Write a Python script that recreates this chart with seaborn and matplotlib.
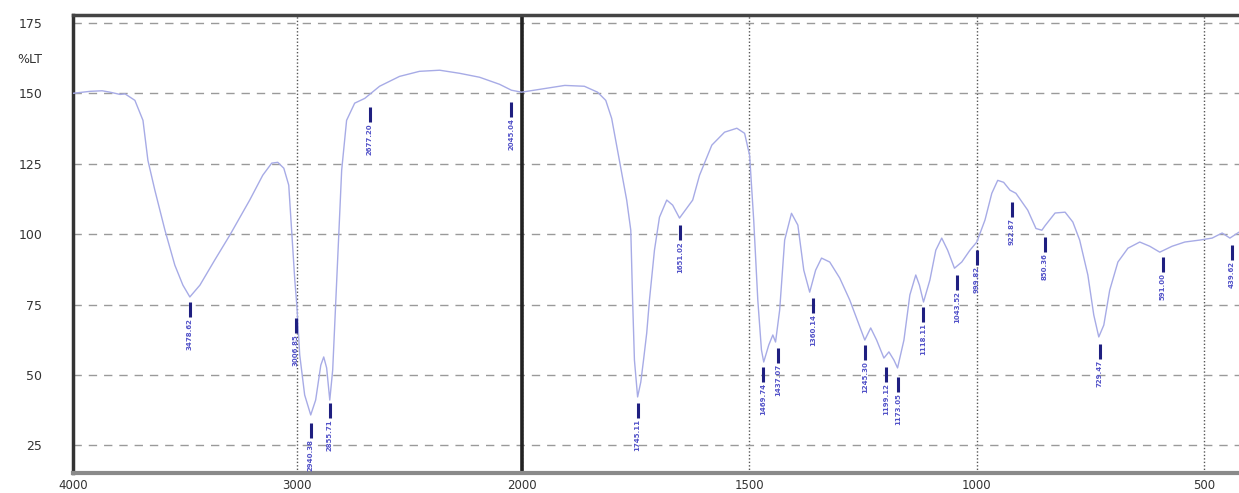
import numpy as np
import pandas as pd
import matplotlib
matplotlib.use("Agg")
import matplotlib.pyplot as plt
import seaborn as sns
from matplotlib.ticker import FixedLocator, NullFormatter

# ---------------- data ----------------
wavenumber = [4000, 3924, 3870, 3835, 3790, 3768, 3724, 3688, 3666, 3635, 3590, 3546, 3510,
              3479, 3434, 3368, 3301, 3212, 3154, 3114, 3087, 3060, 3038, 3025, 3011, 3002,
              2989, 2967, 2940, 2918, 2895, 2882, 2869, 2855, 2842, 2824, 2802, 2780, 2744,
              2699, 2633, 2544, 2455, 2365, 2276, 2187, 2098, 2045, 2000, 1960, 1905, 1862,
              1833, 1815, 1802, 1785, 1769, 1760, 1756, 1752, 1745, 1738, 1732, 1725, 1719,
              1708, 1697, 1681, 1668, 1653, 1637, 1624, 1609, 1582, 1554, 1527, 1510, 1499,
              1490, 1481, 1473, 1468, 1457, 1448, 1442, 1433, 1422, 1407, 1393, 1380, 1367,
              1354, 1341, 1323, 1301, 1279, 1261, 1246, 1233, 1220, 1204, 1193, 1182, 1174,
              1160, 1147, 1134, 1126, 1117, 1103, 1090, 1077, 1064, 1049, 1033, 1015, 1000,
              982, 967, 954, 941, 927, 914, 888, 870, 857, 850, 828, 806, 789, 774, 756, 743,
              732, 721, 708, 690, 668, 642, 620, 598, 571, 543, 510, 483, 461, 444, 424]
transmittance = [150.0, 150.7, 150.9, 150.4, 149.6, 149.8, 147.5, 140.4, 126.2, 115.6, 101.4,
                 89.0, 81.9, 77.7, 81.9, 90.8, 99.6, 112.1, 120.9, 125.2, 125.5, 123.4, 117.4,
                 101.4, 83.7, 74.8, 57.1, 42.9, 35.8, 41.1, 53.5, 56.4, 52.5, 41.1, 51.8, 83.7,
                 122.7, 140.4, 146.5, 148.2, 152.5, 156.0, 157.8, 158.2, 157.1, 155.7, 153.2,
                 151.1, 150.4, 151.4, 152.8, 152.5, 150.4, 147.5, 141.1, 126.2, 112.1, 101.4,
                 76.6, 55.3, 42.2, 47.5, 55.3, 64.9, 76.6, 94.3, 106.0, 112.1, 110.3, 105.7,
                 109.2, 112.1, 120.9, 131.6, 136.2, 137.6, 135.8, 128.0, 105.0, 76.6, 58.9,
                 54.6, 60.6, 64.2, 61.7, 73.0, 97.9, 107.4, 103.2, 87.2, 79.4, 87.2, 91.5,
                 90.1, 84.4, 76.6, 68.8, 62.4, 66.7, 62.4, 56.0, 58.2, 55.3, 52.5, 62.4, 78.4,
                 85.5, 81.9, 75.9, 83.7, 94.3, 98.6, 94.3, 87.9, 90.1, 94.3, 97.2, 105.0, 114.5,
                 119.1, 118.4, 115.6, 114.5, 108.5, 102.0, 101.4, 103.0, 107.5, 107.8, 104.3,
                 97.9, 85.5, 71.3, 63.5, 67.7, 80.1, 90.1, 95.0, 97.2, 95.7, 93.6, 95.7, 97.2,
                 97.9, 98.6, 100.4, 98.6, 100.7]

peak_wn = [3478.62, 3006.85, 2940.38, 2855.71, 2677.20, 2045.04, 1745.11, 1651.02,
           1469.74, 1437.07, 1360.14, 1245.30, 1199.12, 1173.05, 1118.11, 1043.52,
           999.82, 922.87, 850.36, 729.47, 591.00, 439.62]
peak_top = [75.9, 70.2, 33.0, 40.1, 145.0, 146.8, 40.1, 103.2, 52.8, 59.6, 77.3, 60.6,
            52.8, 49.3, 74.1, 85.5, 94.3, 111.3, 98.9, 61.0, 91.8, 96.1]
peak_labels = [f"{w:.2f}" for w in peak_wn]

x_major = [4000, 3000, 2000, 1500, 1000, 500]
x_minor = [3800, 3600, 3400, 3200, 2800, 2600, 2400, 2200, 1900, 1800, 1700, 1600,
           1400, 1300, 1200, 1100, 900, 800, 700, 600, 400]
y_major = [25, 50, 75, 100, 125, 150, 175]
y_minor = [20, 30, 35, 40, 45, 55, 60, 65, 70, 80, 85, 90, 95, 105, 110, 115, 120,
           130, 135, 140, 145, 155, 160, 165, 170]

df = pd.DataFrame({"wn": wavenumber, "t": transmittance})

# ---------------- style ----------------
sns.set_style("white")
plt.rcParams["font.family"] = ["DejaVu Sans"]

W, H = 1239, 493
fig = plt.figure(figsize=(W / 100, H / 100), dpi=100)
ax = fig.add_axes([73 / W, (H - 473) / H, 1 - 73 / W, (473 - 15) / H])

SPLIT = 2.03  # compression of the 4000-2000 region


def fwd(w):
    w = np.asarray(w, dtype=float)
    return np.where(w >= 2000, 1000 + (w - 2000) / SPLIT, w - 1000)


def inv(u):
    u = np.asarray(u, dtype=float)
    return np.where(u >= 1000, 2000 + (u - 1000) * SPLIT, u + 1000)


ax.set_xscale("function", functions=(fwd, inv))

sns.lineplot(data=df, x="wn", y="t", ax=ax, sort=False, estimator=None,
             color="#a7abe6", lw=1.0, zorder=3)

ax.set_xlim(4000, 424)
ax.set_ylim(15.2, 177.8)

# peak markers
ax.vlines(peak_wn, np.array(peak_top) - 5.3, peak_top, color="#1f1f80", lw=2.2, zorder=4)
for w, t, lab in zip(peak_wn, peak_top, peak_labels):
    ax.text(w, t - 5.7, lab, rotation=90, ha="center", va="top", fontsize=5,
            fontweight="bold", color="#5252c8", zorder=4)

# ticks
ax.xaxis.set_major_locator(FixedLocator(x_major))
ax.xaxis.set_minor_locator(FixedLocator(x_minor))
ax.xaxis.set_minor_formatter(NullFormatter())
ax.set_xticklabels([str(v) for v in x_major])
ax.yaxis.set_major_locator(FixedLocator(y_major))
ax.yaxis.set_minor_locator(FixedLocator(y_minor))
ax.set_yticklabels([str(v) for v in y_major])

ax.tick_params(axis="y", which="major", direction="out", length=16, width=1.3,
               color="#333333", labelsize=9, labelcolor="#333333", pad=6)
ax.tick_params(axis="y", which="minor", direction="out", length=7, width=1.1,
               color="#444444")
ax.tick_params(axis="x", which="both", direction="inout", length=6, width=1.1,
               color="#555555", labelsize=8.5, labelcolor="#333333", pad=1.5)

ax.annotate("%LT", xy=(0, 162), xycoords=("axes fraction", "data"),
            xytext=(-22, 0), textcoords="offset points", ha="right", va="center",
            fontsize=9, color="#333333")

ax.set_xlabel("")
ax.set_ylabel("")

# grid
ax.set_axisbelow(True)
ax.grid(axis="y", which="major", color="#9a9a9a", lw=1.0, ls=(0, (6, 5)))
ax.grid(axis="x", which="major", color="#555555", lw=1.0, ls=(0, (1, 1.5)))
ax.axvline(x_major[2], color="#222222", lw=2.6, zorder=2)

# spines
for s in ["top", "left", "bottom", "right"]:
    ax.spines[s].set_visible(True)
ax.spines["top"].set_color("#444444")
ax.spines["top"].set_linewidth(2.5)
ax.spines["left"].set_color("#333333")
ax.spines["left"].set_linewidth(2.5)
ax.spines["bottom"].set_color("#8a8a8a")
ax.spines["bottom"].set_linewidth(3)
ax.spines["right"].set_visible(False)

fig.savefig("out.png", dpi=100)
